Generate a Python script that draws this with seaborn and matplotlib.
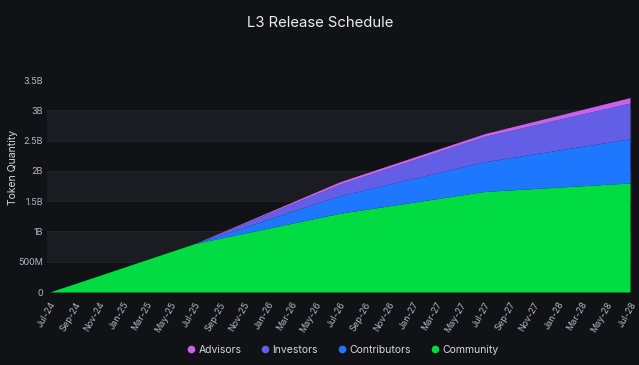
import matplotlib
matplotlib.use("Agg")
import matplotlib.pyplot as plt
from matplotlib.lines import Line2D
import pandas as pd
import seaborn as sns


# values in billions of tokens
dates = ["2024-07-01", "2025-07-01", "2026-07-01", "2027-07-01", "2028-07-01"]
community = [0.0, 0.80, 1.30, 1.66, 1.80]
contributors = [0.0, 0.0, 0.29, 0.49, 0.73]
investors = [0.0, 0.0, 0.19, 0.42, 0.59]
advisors = [0.0, 0.0, 0.04, 0.045, 0.09]

series_names = ["Community", "Contributors", "Investors", "Advisors"]
series_colors = ["#00dc41", "#1e78ff", "#625ee6", "#c464ee"]
legend_order = ["Advisors", "Investors", "Contributors", "Community"]

y_ticks = [0, 0.5, 1, 1.5, 2, 2.5, 3, 3.5]
y_tick_labels = ["0", "500M", "1B", "1.5B", "2B", "2.5B", "3B", "3.5B"]

BG = "#111216"
BAND = "#1b1c21"
TEXT = "#b4b6bc"

sns.set_theme(style="dark")
plt.rcParams["font.family"] = ["Inter", "DejaVu Sans"]

df = pd.DataFrame({
    "date": pd.to_datetime(dates),
    "Community": community,
    "Contributors": contributors,
    "Investors": investors,
    "Advisors": advisors,
})

fig = plt.figure(figsize=(6.39, 3.65), dpi=100, facecolor=BG)
ax = fig.add_axes([47 / 639, 73 / 365, 585 / 639, 212 / 365])
ax.set_facecolor(BG)

for lo in [0.5, 1.5, 2.5]:
    ax.axhspan(lo, lo + 0.5, color=BAND, lw=0, zorder=0)
    ax.axhline(lo, color="#23252b", lw=0.6, zorder=0)
    ax.axhline(lo + 0.5, color="#23252b", lw=0.6, zorder=0)

ax.stackplot(df["date"], [df[c] for c in series_names],
             colors=series_colors, lw=0, zorder=2)

ax.set_ylim(0, 3.5)
ax.set_xlim(pd.Timestamp("2024-06-24"), pd.Timestamp("2028-07-06"))
ax.set_yticks(y_ticks)
ax.set_yticklabels(y_tick_labels)

x_ticks = pd.date_range("2024-07-01", "2028-07-01", freq="2MS")
ax.set_xticks(x_ticks)
ax.set_xticklabels([d.strftime("%b-%y") for d in x_ticks],
                   rotation=60, ha="right", rotation_mode="anchor")

ax.tick_params(axis="both", colors=TEXT, length=0, labelsize=6.5)
ax.tick_params(axis="x", pad=6)
ax.tick_params(axis="y", pad=3)
for s in ax.spines.values():
    s.set_visible(False)
ax.grid(False)

ax.set_xlabel("")
ax.set_ylabel("")
fig.text(13 / 639, 1 - 167 / 365, "Token Quantity", color="#d6d7db",
         fontsize=7.5, rotation=90, ha="center", va="center")
fig.text(320 / 639, 1 - 23 / 365, "L3 Release Schedule", color="#eeeeee",
         fontsize=10.7, ha="center", va="center")

color_of = dict(zip(series_names, series_colors))
handles = [Line2D([0], [0], marker="o", color="none", markerfacecolor=color_of[n],
                  markeredgecolor="none", markersize=5.5, label=n) for n in legend_order]
leg = fig.legend(handles=handles, loc="center", bbox_to_anchor=(342 / 639, 1 - 350 / 365),
                 ncol=4, frameon=False, fontsize=7.5, handletextpad=0.2,
                 columnspacing=1.8, handlelength=1.0)
for t in leg.get_texts():
    t.set_color("#d6d7db")

fig.savefig("out.png", dpi=100, facecolor=BG)
